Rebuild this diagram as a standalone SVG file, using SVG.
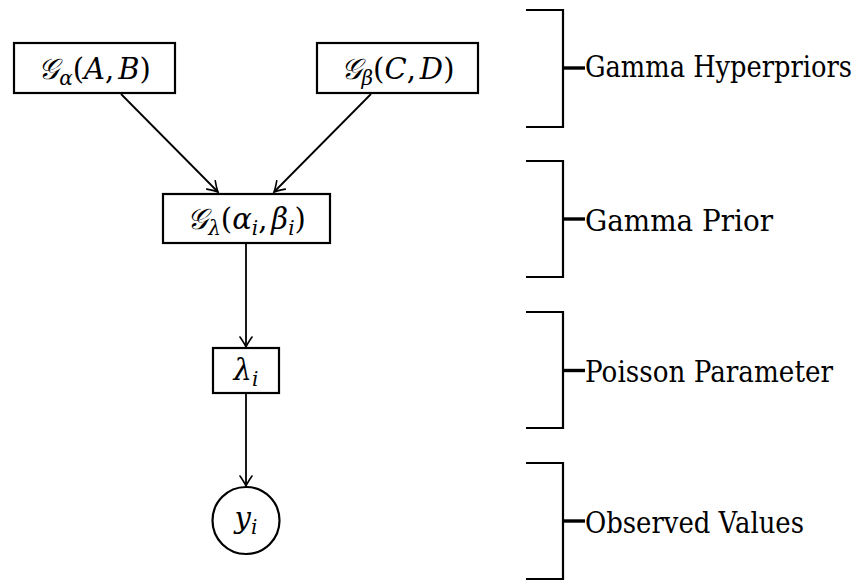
<svg xmlns="http://www.w3.org/2000/svg" width="867" height="580" viewBox="0 0 867 580">
<style>
.node{fill:#fff;stroke:#000;stroke-width:2.2}
.edge{fill:none;stroke:#000;stroke-width:1.8}
.br{fill:none;stroke:#000;stroke-width:2.2}
.tick{stroke:#000;stroke-width:3.4}
text{font-family:"DejaVu Serif","Noto Serif",serif;fill:#000}
.m{font-size:29px}
.it{font-style:italic}
.sub{font-size:20px;font-style:italic}
.lbl{font-size:30px}
</style>
<defs>
<marker id="arr" viewBox="-12 -7 14 14" refX="0" refY="0" markerWidth="14" markerHeight="14" markerUnits="userSpaceOnUse" orient="auto">
<path d="M-10,-6 Q-3,-1.2 0,0 Q-3,1.2 -10,6" fill="none" stroke="#000" stroke-width="1.6" stroke-linecap="round"/>
</marker>
</defs>
<g id="connectors">
<line class="edge" x1="121" y1="94" x2="218" y2="192" marker-end="url(#arr)"/>
<line class="edge" x1="371" y1="94" x2="274" y2="192" marker-end="url(#arr)"/>
<line class="edge" x1="246" y1="243" x2="246" y2="347" marker-end="url(#arr)"/>
<line class="edge" x1="246" y1="393" x2="246" y2="486" marker-end="url(#arr)"/>
</g>
<g id="node-ga">
<rect class="node" x="14" y="43" width="161" height="50"/>
<text class="m" x="94.5" y="79" text-anchor="middle"><tspan class="it">𝒢</tspan><tspan class="sub" dy="6">α</tspan><tspan dy="-6">(</tspan><tspan class="it">A</tspan>,<tspan class="it" dx="4">B</tspan>)</text>
</g>
<g id="node-gb">
<rect class="node" x="317" y="43" width="161" height="50"/>
<text class="m" x="397.5" y="79" text-anchor="middle"><tspan class="it">𝒢</tspan><tspan class="sub" dy="6">β</tspan><tspan dy="-6">(</tspan><tspan class="it">C</tspan>,<tspan class="it" dx="4">D</tspan>)</text>
</g>
<g id="node-gl">
<rect class="node" x="163" y="194" width="167" height="49"/>
<text class="m" x="246.5" y="229" text-anchor="middle"><tspan class="it">𝒢</tspan><tspan class="sub" dy="6">λ</tspan><tspan dy="-6">(</tspan><tspan class="it">α</tspan><tspan class="sub" dy="6">i</tspan><tspan dy="-6">,</tspan><tspan class="it" dx="4">β</tspan><tspan class="sub" dy="6">i</tspan><tspan dy="-6">)</tspan></text>
</g>
<g id="node-lambda">
<rect class="node" x="213" y="348" width="66" height="45"/>
<text class="m" x="246" y="380" text-anchor="middle"><tspan class="it">λ</tspan><tspan class="sub" dy="6">i</tspan></text>
</g>
<g id="node-y">
<circle class="node" cx="246" cy="520.5" r="33.5"/>
<text class="m" x="246" y="528" text-anchor="middle"><tspan class="it">y</tspan><tspan class="sub" dy="6">i</tspan></text>
</g>
<g id="bracket-hyper">
<path class="br" d="M526,10 H563 V127 H526"/>
<line class="tick" x1="563" y1="68" x2="585" y2="68"/>
<text class="lbl" x="585" y="77" textLength="267" lengthAdjust="spacingAndGlyphs">Gamma Hyperpriors</text>
</g>
<g id="bracket-prior">
<path class="br" d="M526,161 H563 V277 H526"/>
<line class="tick" x1="563" y1="219" x2="585" y2="219"/>
<text class="lbl" x="585" y="230.5" textLength="188" lengthAdjust="spacingAndGlyphs">Gamma Prior</text>
</g>
<g id="bracket-poisson">
<path class="br" d="M526,312 H563 V428 H526"/>
<line class="tick" x1="563" y1="370.5" x2="585" y2="370.5"/>
<text class="lbl" x="585" y="381.5" textLength="248" lengthAdjust="spacingAndGlyphs">Poisson Parameter</text>
</g>
<g id="bracket-observed">
<path class="br" d="M526,463 H563 V579 H526"/>
<line class="tick" x1="563" y1="521" x2="585" y2="521"/>
<text class="lbl" x="585" y="533" textLength="219" lengthAdjust="spacingAndGlyphs">Observed Values</text>
</g>
</svg>
